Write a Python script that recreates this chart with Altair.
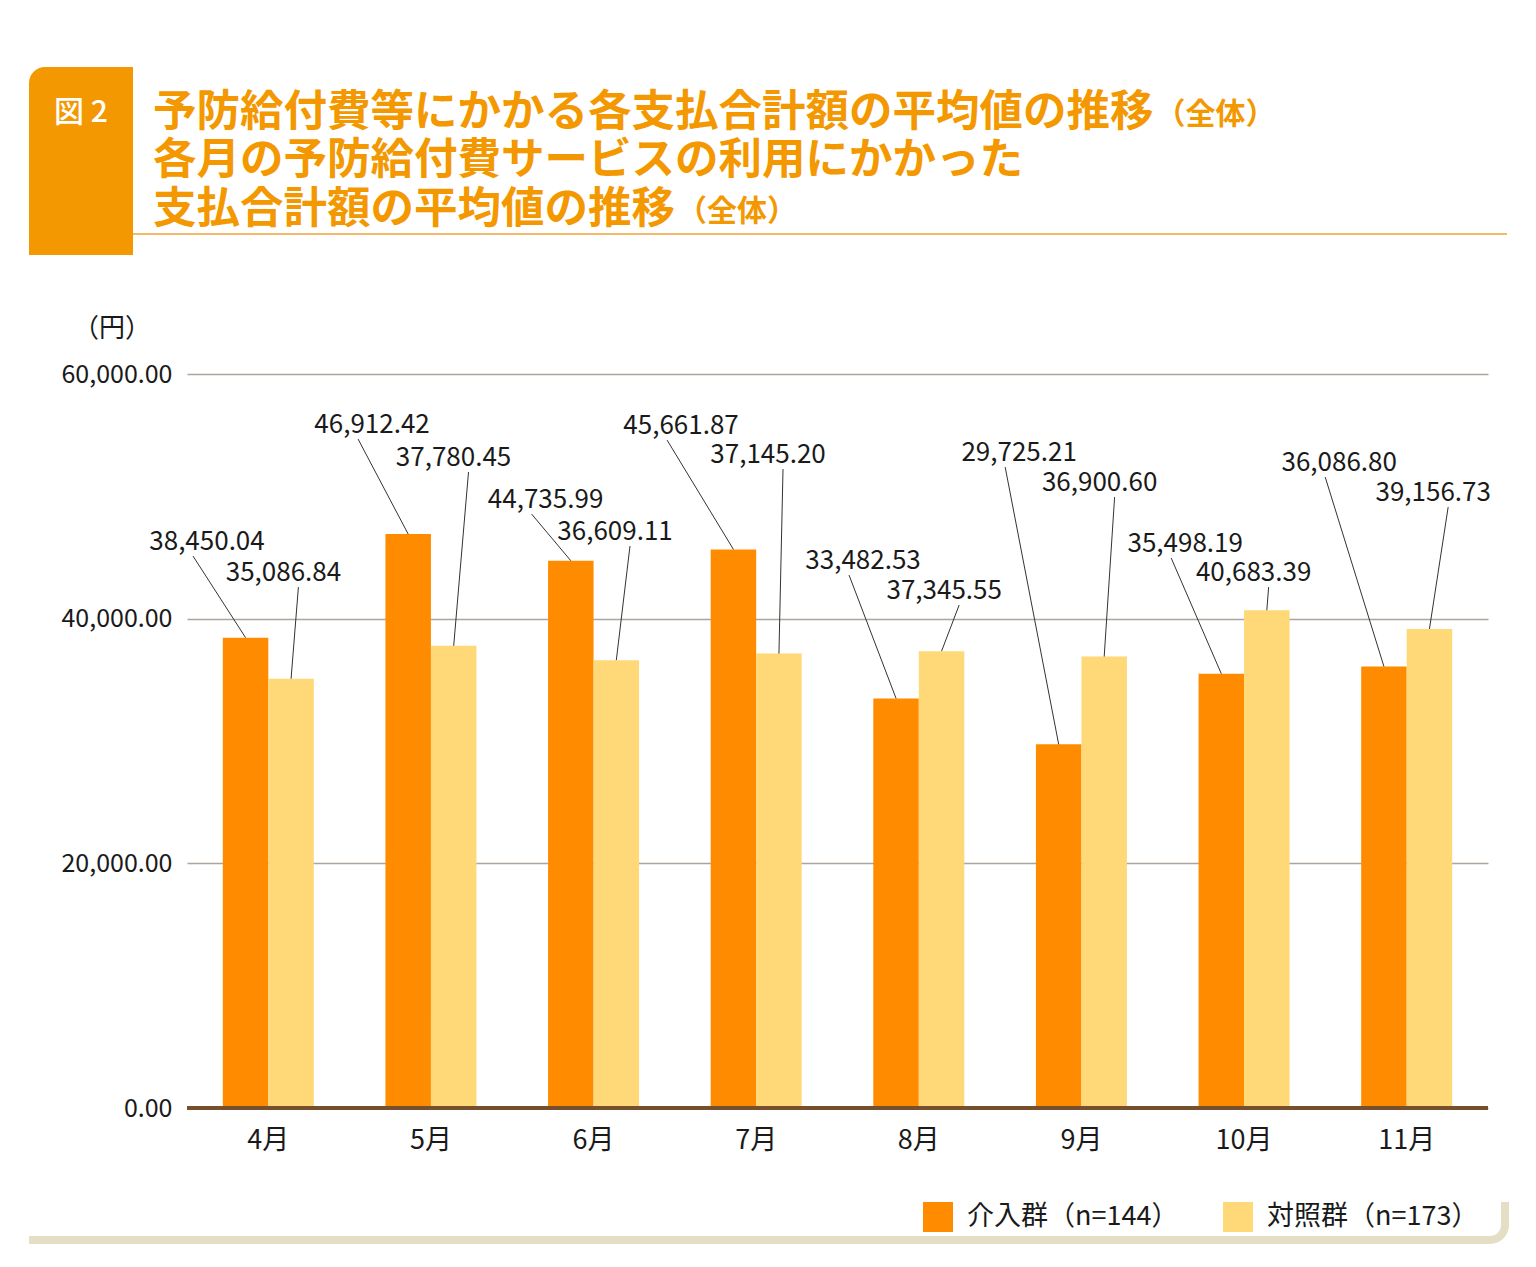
import math
import altair as alt
import pandas as pd

# ---------------- data ----------------
months = ["4月", "5月", "6月", "7月", "8月", "9月", "10月", "11月"]
groups = ["介入群（n=144）", "対照群（n=173）"]
values_a = [38450.04, 46912.42, 44735.99, 45661.87, 33482.53, 29725.21, 35498.19, 36086.80]
values_b = [35086.84, 37780.45, 36609.11, 37145.20, 37345.55, 36900.60, 40683.39, 39156.73]
# annotation anchor positions (label heights in yen, horizontal offset in month-band units)
label_y_a = [46267, 55831, 49700, 55749, 44714, 53542, 46104, 52725]
label_y_b = [43733, 53134, 47085, 53379, 42262, 51090, 43733, 50272]
label_dx_a = [-0.377, -0.362, -0.295, -0.462, -0.343, -0.383, -0.362, -0.415]
label_dx_b = [0.093, 0.139, 0.132, 0.073, 0.156, 0.112, 0.059, 0.163]
y_ticks = [0, 20000, 40000, 60000]

title_lines = ["予防給付費等にかかる各支払合計額の平均値の推移",
               "各月の予防給付費サービスの利用にかかった",
               "支払合計額の平均値の推移"]
title_suffix = "（全体）"
fig_label = "図 2"
unit_label = "（円）"

# ---------------- style ----------------
FONT = "Noto Sans CJK JP"
W, H = 1301, 734
ORANGE_BAR = "#FF8C00"
YELLOW_BAR = "#FFD877"
TITLE_ORANGE = "#F39800"
BEIGE = "#E4DEC4"
TEXT = "#1a1a1a"
BAR_HALF = 22.75 / (W / 8)
TITLE_SIZE = 43.5

rows = []
for i, m in enumerate(months):
    rows.append(dict(month=m, idx=i, group=groups[0], value=values_a[i],
                     label_y=label_y_a[i], label_dx=label_dx_a[i], side=-1))
    rows.append(dict(month=m, idx=i, group=groups[1], value=values_b[i],
                     label_y=label_y_b[i], label_dx=label_dx_b[i], side=1))
df = pd.DataFrame(rows)

yscale = alt.Scale(domain=[0, 60000], nice=False, zero=True)
xq = alt.Scale(domain=[0, 8], nice=False, zero=False)

bars = alt.Chart(df).mark_bar().encode(
    x=alt.X("month:N", sort=months, title=None,
            scale=alt.Scale(paddingInner=0, paddingOuter=0),
            axis=alt.Axis(labelAngle=0, labelFontSize=27, labelFont=FONT, labelColor=TEXT,
                          labelPadding=19, ticks=False, domain=False, grid=False)),
    xOffset=alt.XOffset("group:N", sort=groups,
                        scale=alt.Scale(paddingInner=0, paddingOuter=0.787)),
    y=alt.Y("value:Q", scale=yscale, title=None,
            axis=alt.Axis(values=y_ticks, format=",.2f", labelFontSize=25, labelFont=FONT,
                          labelColor=TEXT, labelPadding=15, ticks=False, domain=False,
                          gridColor="#ADA59C", gridWidth=1.5)),
    color=alt.Color("group:N", sort=groups,
                    scale=alt.Scale(domain=groups, range=[ORANGE_BAR, YELLOW_BAR]),
                    legend=alt.Legend(orient="none", legendX=736, legendY=828,
                                      direction="horizontal", title=None,
                                      symbolType="square", symbolSize=900,
                                      symbolStrokeWidth=0, symbolOpacity=1,
                                      labelFontSize=27, labelFont=FONT, labelColor=TEXT,
                                      labelOffset=14, labelLimit=400, columnPadding=44)),
)

zero_line = alt.Chart(pd.DataFrame({"v": [0]})).mark_rule(
    color="#76502C", strokeWidth=4).encode(y=alt.Y("v:Q", scale=yscale, title=None))

ann = alt.Chart(df).transform_calculate(
    bar_x=f"datum.idx + 0.5 + datum.side * {BAR_HALF}",
    lab_x="datum.idx + 0.5 + datum.label_dx",
).transform_calculate(
    line_x="datum.lab_x + (datum.side < 0 ? -0.086 : 0.092)",
    line_y="datum.label_y - 1150",
)

leaders = ann.mark_rule(color="#333333", strokeWidth=1).encode(
    x=alt.X("bar_x:Q", scale=xq, axis=None),
    x2="line_x:Q",
    y=alt.Y("value:Q", scale=yscale, title=None),
    y2="line_y:Q",
)

labels = ann.mark_text(font=FONT, fontSize=26, color=TEXT, baseline="middle").encode(
    x=alt.X("lab_x:Q", scale=xq, axis=None),
    y=alt.Y("label_y:Q", scale=yscale, title=None),
    text=alt.Text("value:Q", format=",.2f"),
)

one = pd.DataFrame({"k": [0]})

block = alt.Chart(one).mark_rect(color=TITLE_ORANGE, cornerRadiusTopLeft=16).encode(
    x=alt.value(-158), x2=alt.value(-54), y=alt.value(-307), y2=alt.value(-119))
fig_txt = alt.Chart(one).mark_text(font=FONT, fontSize=30, fontWeight=500, color="white",
                                   align="center", baseline="middle").encode(
    x=alt.value(-106), y=alt.value(-261), text=alt.value(fig_label))

title_layers = []
title_y = [-261, -213, -164]
for t, ty in zip(title_lines, title_y):
    title_layers.append(alt.Chart(one).mark_text(
        font=FONT, fontSize=TITLE_SIZE, fontWeight="bold", color=TITLE_ORANGE,
        align="left", baseline="middle").encode(
        x=alt.value(-34), y=alt.value(ty), text=alt.value(t)))
for line_idx, ty in ((0, -259), (2, -162)):
    sx = -34 + len(title_lines[line_idx]) * TITLE_SIZE + 2
    title_layers.append(alt.Chart(one).mark_text(
        font=FONT, fontSize=30, fontWeight="bold", color=TITLE_ORANGE,
        align="left", baseline="middle").encode(
        x=alt.value(sx), y=alt.value(ty), text=alt.value(title_suffix)))

underline = alt.Chart(one).mark_rule(color="#F2A03A", strokeWidth=1.5).encode(
    x=alt.value(-54), x2=alt.value(1320), y=alt.value(-140))

unit_txt = alt.Chart(one).mark_text(font=FONT, fontSize=26, color=TEXT,
                                    align="center", baseline="middle").encode(
    x=alt.value(-75), y=alt.value(-45), text=alt.value(unit_label))

deco_h = alt.Chart(one).mark_rect(color=BEIGE).encode(
    x=alt.value(-158), x2=alt.value(1303), y=alt.value(862), y2=alt.value(870))
deco_v = alt.Chart(one).mark_rect(color=BEIGE).encode(
    x=alt.value(1314), x2=alt.value(1322), y=alt.value(828), y2=alt.value(851))
deco_arc = alt.Chart(one).mark_arc(color=BEIGE, radius=19, radius2=11,
                                   theta=math.pi / 2, theta2=math.pi).encode(
    x=alt.value(1303), y=alt.value(851))

chart = alt.layer(
    bars, zero_line, leaders, labels,
    block, fig_txt, *title_layers, underline, unit_txt, deco_h, deco_v, deco_arc,
).resolve_scale(x="independent").properties(
    width=W, height=H,
    autosize=alt.AutoSizeParams(type="none"),
    padding={"left": 187, "top": 374, "right": 48, "bottom": 159},
    background="white",
).configure_view(stroke=None)

chart.save("out.html", embed_options={"renderer": "svg", "actions": False})
